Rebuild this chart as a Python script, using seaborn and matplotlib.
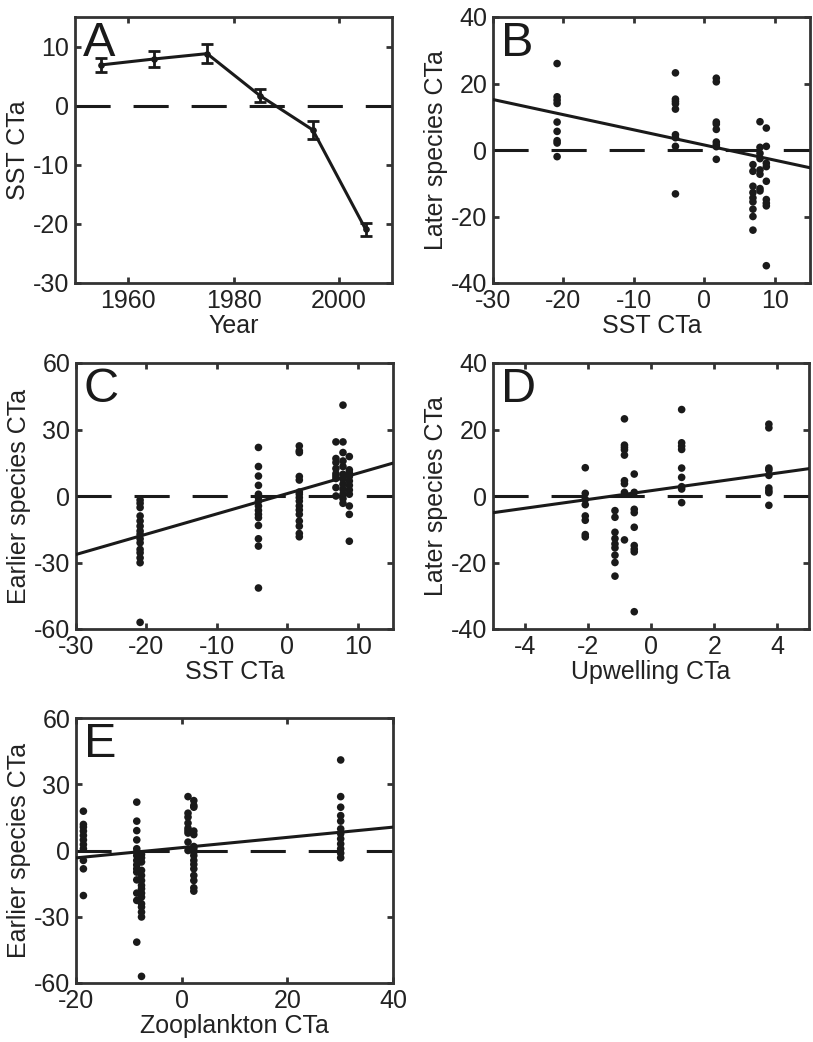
import numpy as np
import pandas as pd
import seaborn as sns
import matplotlib
matplotlib.use("Agg")
from matplotlib import pyplot as plt

# ------------------------------------------------------------
# data
# ------------------------------------------------------------
decades = [1955, 1965, 1975, 1985, 1995, 2005]
sst_cta = [6.9, 7.9, 8.8, 1.7, -4.1, -20.9]
sst_err = [1.2, 1.3, 1.6, 1.1, 1.5, 1.1]
upwelling_cta = [-1.14, -2.08, -0.53, 3.73, -0.84, 0.97]
zooplankton_cta = [1.2, 30.1, -18.6, 2.3, -8.5, -7.6]

later_1955 = [-4.4, -6.4, -10.9, -12.8, -14.4, -15.6, -17.8, -20.0, -24.1]
later_1965 = [8.5, 0.8, -1.0, -2.6, -6.0, -7.3, -11.6, -12.3]
later_1975 = [6.6, 1.1, -4.0, -5.0, -9.4, -14.9, -16.0, -16.8, -34.8]
later_1985 = [21.6, 20.5, 8.4, 7.8, 6.2, 2.4, 1.6, 1.0, -2.8]
later_1995 = [23.2, 15.3, 14.6, 13.9, 12.3, 4.6, 3.7, 1.1, -13.2]
later_2005 = [26.0, 16.0, 15.0, 14.0, 8.4, 5.6, 2.8, 2.1, -2.0]

earlier_1955 = [24.4, 16.9, 15.1, 12.4, 10.1, 9.0, 7.9, 3.8, 0.0]
earlier_1965 = [41.0, 24.4, 19.6, 15.8, 13.3, 9.8, 7.6, 5.3, 3.0, 0.8, -1.2, -3.3]
earlier_1975 = [17.8, 11.8, 10.6, 8.8, 6.8, 4.8, 2.7, 0.8, -4.5, -8.3, -20.4]
earlier_1985 = [22.6, 20.4, 19.6, 8.8, 7.2, 1.8, 0.8, -0.7, -2.3, -4.5, -6.3,
                -8.3, -11.3, -13.6, -16.9, -18.4]
earlier_1995 = [21.9, 13.3, 9.0, 4.8, 0.8, -0.7, -2.3, -4.5, -6.5, -8.3, -9.8,
                -13.3, -19.3, -22.6, -41.5]
earlier_2005 = [-1.8, -3.3, -5.2, -9.0, -11.3, -13.6, -15.8, -17.3, -19.3,
                -21.1, -24.1, -25.6, -27.9, -30.1, -57.0]

# fitted lines (intercept, slope) as shown in panels B-E
fit_B = (1.5, -0.456)
fit_C = (1.1, 0.916)
fit_D = (1.6, 1.325)
fit_E = (1.3, 0.232)

later_groups = [later_1955, later_1965, later_1975, later_1985, later_1995, later_2005]
earlier_groups = [earlier_1955, earlier_1965, earlier_1975, earlier_1985, earlier_1995, earlier_2005]

rows = []
for i, vals in enumerate(later_groups):
    for v in vals:
        rows.append({"decade": decades[i], "sst": sst_cta[i], "upwelling": upwelling_cta[i], "later": v})
later_df = pd.DataFrame(rows)

rows = []
for i, vals in enumerate(earlier_groups):
    for v in vals:
        rows.append({"decade": decades[i], "sst": sst_cta[i], "zoo": zooplankton_cta[i], "earlier": v})
earlier_df = pd.DataFrame(rows)

# ------------------------------------------------------------
# style
# ------------------------------------------------------------
sns.set_theme(style="ticks")
plt.rcParams["font.family"] = ["Liberation Sans", "DejaVu Sans"]
plt.rcParams["axes.unicode_minus"] = False
plt.rcParams["axes.edgecolor"] = "#333333"
plt.rcParams["axes.linewidth"] = 2.0
plt.rcParams["xtick.color"] = "#333333"
plt.rcParams["ytick.color"] = "#333333"
plt.rcParams["xtick.labelcolor"] = "#222222"
plt.rcParams["ytick.labelcolor"] = "#222222"
plt.rcParams["axes.labelcolor"] = "#222222"

W, H = 813, 1042
fig = plt.figure(figsize=(W / 100, H / 100), dpi=100)


def box(left, top, right, bottom):
    return [left / W, 1 - bottom / H, (right - left) / W, (bottom - top) / H]


axA = fig.add_axes(box(75, 17, 392, 283))
axB = fig.add_axes(box(493, 17, 810, 283))
axC = fig.add_axes(box(76, 363, 393, 629))
axD = fig.add_axes(box(493, 363, 809, 629))
axE = fig.add_axes(box(76, 718, 393, 983))

DASH = (0, (11.5, 7.5))
DOT = 30


def finish(ax, letter, xlim, ylim, xticks, yticks, xlabel, ylabel):
    ax.plot(xlim, [0, 0], color="k", lw=2.2, linestyle=DASH, zorder=1)
    ax.set_xlim(xlim)
    ax.set_ylim(ylim)
    ax.set_xticks(xticks)
    ax.set_yticks(yticks)
    ax.set_xlabel(xlabel, fontsize=18, labelpad=1)
    ax.set_ylabel(ylabel, fontsize=18, labelpad=2)
    ax.tick_params(direction="in", length=4, width=2, top=True, right=True,
                   labelsize=18, pad=4)
    ax.text(0.025, 0.985, letter, transform=ax.transAxes, ha="left", va="top",
            fontsize=35, color="k")


def fit_line(ax, fit, xlim):
    xs = np.array(xlim, dtype=float)
    sns.lineplot(x=xs, y=fit[0] + fit[1] * xs, color="k", lw=2.2, ax=ax, zorder=3)


# A - SST CTa by decade
sns.lineplot(x=decades, y=sst_cta, color="k", lw=2.2, marker="o", markersize=4,
             markeredgecolor="k", ax=axA, zorder=3)
axA.errorbar(decades, sst_cta, yerr=sst_err, fmt="none", ecolor="k",
             elinewidth=2, capsize=4, capthick=2, zorder=3)
finish(axA, "A", [1950, 2010], [-30, 15], [1960, 1980, 2000],
       [-30, -20, -10, 0, 10], "Year", "SST CTa")

# B - later species vs SST
sns.scatterplot(data=later_df, x="sst", y="later", color="k", s=DOT,
                edgecolor="none", ax=axB, zorder=4)
fit_line(axB, fit_B, [-30, 15])
finish(axB, "B", [-30, 15], [-40, 40], [-30, -20, -10, 0, 10],
       [-40, -20, 0, 20, 40], "SST CTa", "Later species CTa")

# C - earlier species vs SST
sns.scatterplot(data=earlier_df, x="sst", y="earlier", color="k", s=DOT,
                edgecolor="none", ax=axC, zorder=4)
fit_line(axC, fit_C, [-30, 15])
finish(axC, "C", [-30, 15], [-60, 60], [-30, -20, -10, 0, 10],
       [-60, -30, 0, 30, 60], "SST CTa", "Earlier species CTa")

# D - later species vs upwelling
sns.scatterplot(data=later_df, x="upwelling", y="later", color="k", s=DOT,
                edgecolor="none", ax=axD, zorder=4)
fit_line(axD, fit_D, [-5, 5])
finish(axD, "D", [-5, 5], [-40, 40], [-4, -2, 0, 2, 4],
       [-40, -20, 0, 20, 40], "Upwelling CTa", "Later species CTa")

# E - earlier species vs zooplankton
sns.scatterplot(data=earlier_df, x="zoo", y="earlier", color="k", s=DOT,
                edgecolor="none", ax=axE, zorder=4)
fit_line(axE, fit_E, [-20, 40])
finish(axE, "E", [-20, 40], [-60, 60], [-20, 0, 20, 40],
       [-60, -30, 0, 30, 60], "Zooplankton CTa", "Earlier species CTa")

fig.savefig("out.png", dpi=100)
